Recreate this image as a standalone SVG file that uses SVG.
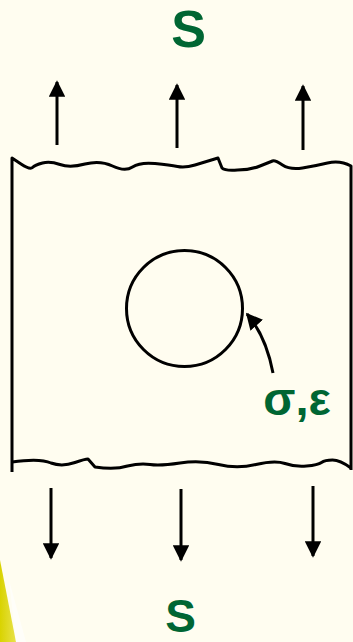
<svg xmlns="http://www.w3.org/2000/svg" width="353" height="642" viewBox="0 0 353 642">
<defs>
<style>
.ln{fill:none;stroke:#000;stroke-width:3;stroke-linejoin:round;stroke-linecap:butt}
.lbl{font-family:"Liberation Sans",Arial,sans-serif;font-weight:bold;fill:#006633}
</style>
<marker id="ah" viewBox="0 0 10 10" refX="9" refY="5" markerWidth="5.5" markerHeight="5.5" orient="auto" markerUnits="strokeWidth">
<path d="M0,0 L10,5 L0,10 Z" fill="#000"/>
</marker>
<linearGradient id="yg" x1="0" y1="0" x2="1" y2="0">
<stop offset="0" stop-color="#d9d300"/>
<stop offset="1" stop-color="#e8e24a"/>
</linearGradient>
</defs>
<rect width="353" height="642" fill="#fffdf0"/>
<polygon points="0,560 0,642 16,642" fill="url(#yg)"/>
<polygon points="9,580 16,642 26,642" fill="#ffffff" opacity="0.6"/>
<g id="plate">
<path class="ln" d="M12,472 L12,158 L21,164 Q30,170 32.5,167.5 Q35,165 42.5,163 Q50,161 60,164.5 Q70,168 85,164 Q100,160 112.5,166 Q125,172 132.5,167 Q140,162 155,163.5 Q170,165 177.5,166.5 Q185,168 195,165 Q205,162 218,158 L222,168 Q225,171 237.5,170 Q250,170 260,166 Q270,162 272.5,161 Q275,160 282.5,165 Q290,170 302.5,168 Q315,166 327.5,163 Q340,160 351,166 L351,470"/>
<path class="ln" d="M12,462 Q40,458 51,463 Q62,467 75,462.5 Q85,459 88,459 L95,467 Q115,470 127.5,466 Q140,463 150,464.5 Q160,466 180,463 Q200,460 218.5,464.5 Q237,469 256,464.5 Q275,460 285,463.5 Q295,467 306.5,466 Q318,465 321.5,462.5 Q325,460 332.5,460 Q340,460 351,468"/>
</g>
<g id="hole">
<circle cx="184.5" cy="308.5" r="58" fill="none" stroke="#000" stroke-width="3"/>
</g>
<g id="connectors">
<line class="ln" x1="57" y1="145" x2="57" y2="82" marker-end="url(#ah)"/>
<line class="ln" x1="177" y1="148" x2="177" y2="85" marker-end="url(#ah)"/>
<line class="ln" x1="303" y1="150" x2="303" y2="86" marker-end="url(#ah)"/>
<line class="ln" x1="51" y1="488" x2="51" y2="558" marker-end="url(#ah)"/>
<line class="ln" x1="181" y1="489" x2="181" y2="560" marker-end="url(#ah)"/>
<line class="ln" x1="313" y1="486" x2="313" y2="556" marker-end="url(#ah)"/>
<path class="ln" d="M273,373 Q266,336 247,314" marker-end="url(#ah)"/>
</g>
<g id="label-top"><text class="lbl" x="188.5" y="47" font-size="52" text-anchor="middle">S</text></g>
<g id="label-bottom"><text class="lbl" x="180.5" y="632" font-size="46" text-anchor="middle">S</text></g>
<g id="label-sigma"><text class="lbl" x="297" y="415" font-size="47" text-anchor="middle">σ,ε</text></g>
</svg>
